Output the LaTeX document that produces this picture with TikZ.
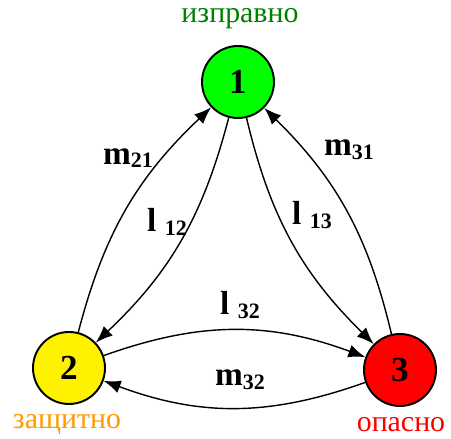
\documentclass[tikz,border=0pt]{standalone}
\usepackage{fontspec}
\setmainfont{Liberation Serif}
\usetikzlibrary{arrows.meta}
\definecolor{stgreen}{RGB}{0,255,0}
\definecolor{txgreen}{RGB}{0,128,0}
\definecolor{txorange}{RGB}{255,153,0}
\newcommand{\rate}[2]{\textbf{#1}\raisebox{-2pt}{\fontsize{12.5}{14}\selectfont\textbf{#2}}}

\begin{document}
\begin{tikzpicture}[
  every node/.style={font=\fontsize{19}{22}\selectfont},
  st/.style={circle,draw=black,line width=1.1pt,minimum size=1.44cm,inner sep=0pt,font=\fontsize{20}{24}\selectfont\bfseries},
  nm/.style={font=\fontsize{17}{20}\selectfont},
  ar/.style={-{Latex[length=3.4mm,width=2.6mm]},line width=0.8pt}]
\useasboundingbox (0,0) rectangle (9.02,8.78);
\node[st,fill=stgreen] (s1) at (4.76,7.14) {1};
\node[st,fill=yellow] (s2) at (1.38,1.42) {2};
\node[st,fill=red] (s3) at (8.00,1.38) {3};
\node[nm,text=txgreen] (t1) at (4.80,8.40) {изправно};
\node[nm,text=txorange] (t2) at (1.34,0.28) {защитно};
\node[nm,text=red] (t3) at (8.02,0.28) {опасно};
\draw[ar] (s2) to[bend left=16] (s1);
\draw[ar] (s1) to[bend left=16] (s2);
\draw[ar] (s1) to[bend right=16] (s3);
\draw[ar] (s3) to[bend right=16] (s1);
\draw[ar] (s2) to[bend left=20] (s3);
\draw[ar] (s3) to[bend left=20] (s2);
\node (m21) at (2.56,5.62) {\rate{m}{21}};
\node (l12) at (3.34,4.34) {\rate{l\ }{12}};
\node (l13) at (6.24,4.48) {\rate{l\ }{13}};
\node (m31) at (6.98,5.78) {\rate{m}{31}};
\node (l32) at (4.80,2.68) {\rate{l\ }{32}};
\node (m32) at (4.80,1.18) {\rate{m}{32}};
\end{tikzpicture}
\end{document}
